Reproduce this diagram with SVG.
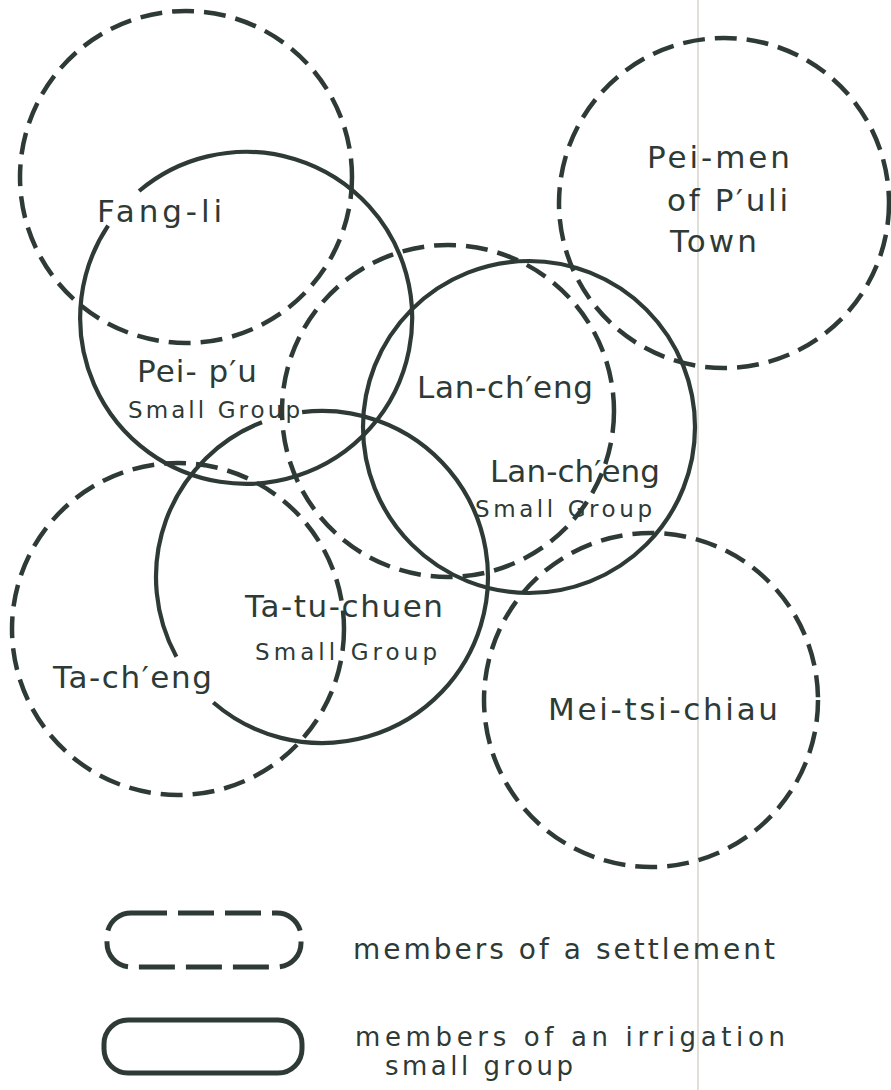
<svg xmlns="http://www.w3.org/2000/svg" width="891" height="1090" viewBox="0 0 891 1090">
  <style>
    .dash { fill: none; stroke: #2e3a36; stroke-width: 4.5; stroke-dasharray: 22 10; stroke-linecap: butt; }
    .solid { fill: none; stroke: #2e3a36; stroke-width: 4.2; }
    .lbl { font-family: "DejaVu Sans", "Liberation Sans", sans-serif; fill: #2e3a36; font-size: 31px; }
    .sm { font-size: 23px; }
    .leg { font-size: 28px; }
    .leg2 { font-size: 26px; }
    .fold { stroke: #d9d5cc; stroke-width: 1.5; }
  </style>
  <rect x="0" y="0" width="891" height="1090" fill="#ffffff"/>
  <line class="fold" x1="698" y1="0" x2="698" y2="1090"/>

  <g id="fang-li">
    <circle class="dash" cx="186" cy="177" r="166"/>
    <text class="lbl" x="97" y="222" textLength="125" lengthAdjust="spacing">Fang-li</text>
  </g>

  <g id="pei-pu-small-group">
    <path class="solid" d="M 139.1 191.0 A 166 166 0 1 1 108.1 225.7"/>
    <text class="lbl" x="137" y="382" textLength="120" lengthAdjust="spacing">Pei- p′u</text>
    <text class="lbl sm" x="128" y="418" textLength="172" lengthAdjust="spacing">Small Group</text>
  </g>

  <g id="lan-cheng">
    <circle class="dash" cx="448" cy="411" r="166"/>
    <text class="lbl" x="417" y="398" textLength="176" lengthAdjust="spacing">Lan-ch′eng</text>
  </g>

  <g id="lan-cheng-small-group">
    <circle class="solid" cx="529" cy="427" r="166"/>
    <text class="lbl" x="490" y="482" textLength="170" lengthAdjust="spacing">Lan-ch′eng</text>
    <text class="lbl sm" x="475" y="517" textLength="177" lengthAdjust="spacing">Small Group</text>
  </g>

  <g id="pei-men">
    <circle class="dash" cx="724" cy="203" r="165"/>
    <text class="lbl" x="647" y="168" textLength="143" lengthAdjust="spacing">Pei-men</text>
    <text class="lbl" x="667" y="211" textLength="121" lengthAdjust="spacing">of P′uli</text>
    <text class="lbl" x="670" y="252" textLength="87" lengthAdjust="spacing">Town</text>
  </g>

  <g id="ta-cheng">
    <circle class="dash" cx="178" cy="629" r="166"/>
    <text class="lbl" x="53" y="688" textLength="159" lengthAdjust="spacing">Ta-ch′eng</text>
  </g>

  <g id="ta-tu-chuen-small-group">
    <path class="solid" d="M 302.1 412.2 A 166 166 0 1 1 213.3 702.5 M 176.4 656.7 A 166 166 0 0 1 262.0 422.2"/>
    <text class="lbl" x="245" y="617" textLength="198" lengthAdjust="spacing" font-size="33">Ta-tu-chuen</text>
    <text class="lbl sm" x="255" y="660" textLength="182" lengthAdjust="spacing">Small Group</text>
  </g>

  <g id="mei-tsi-chiau">
    <circle class="dash" cx="651" cy="700" r="167"/>
    <text class="lbl" x="548" y="720" textLength="230" lengthAdjust="spacing">Mei-tsi-chiau</text>
  </g>

  <g id="connectors"/>

  <g id="legend">
    <rect x="107" y="913" width="194" height="54" rx="24" ry="24" fill="none" stroke="#2e3a36" stroke-width="5" stroke-dasharray="36 11"/>
    <text class="lbl leg" x="353" y="959" textLength="422" lengthAdjust="spacing">members of a settlement</text>
    <rect x="104" y="1020" width="198" height="53" rx="24" ry="24" fill="none" stroke="#2e3a36" stroke-width="5"/>
    <text class="lbl leg2"><tspan x="355" y="1046" textLength="430" lengthAdjust="spacing">members of an irrigation</tspan><tspan x="385" y="1075" textLength="188" lengthAdjust="spacing">small group</tspan></text>
  </g>
</svg>
